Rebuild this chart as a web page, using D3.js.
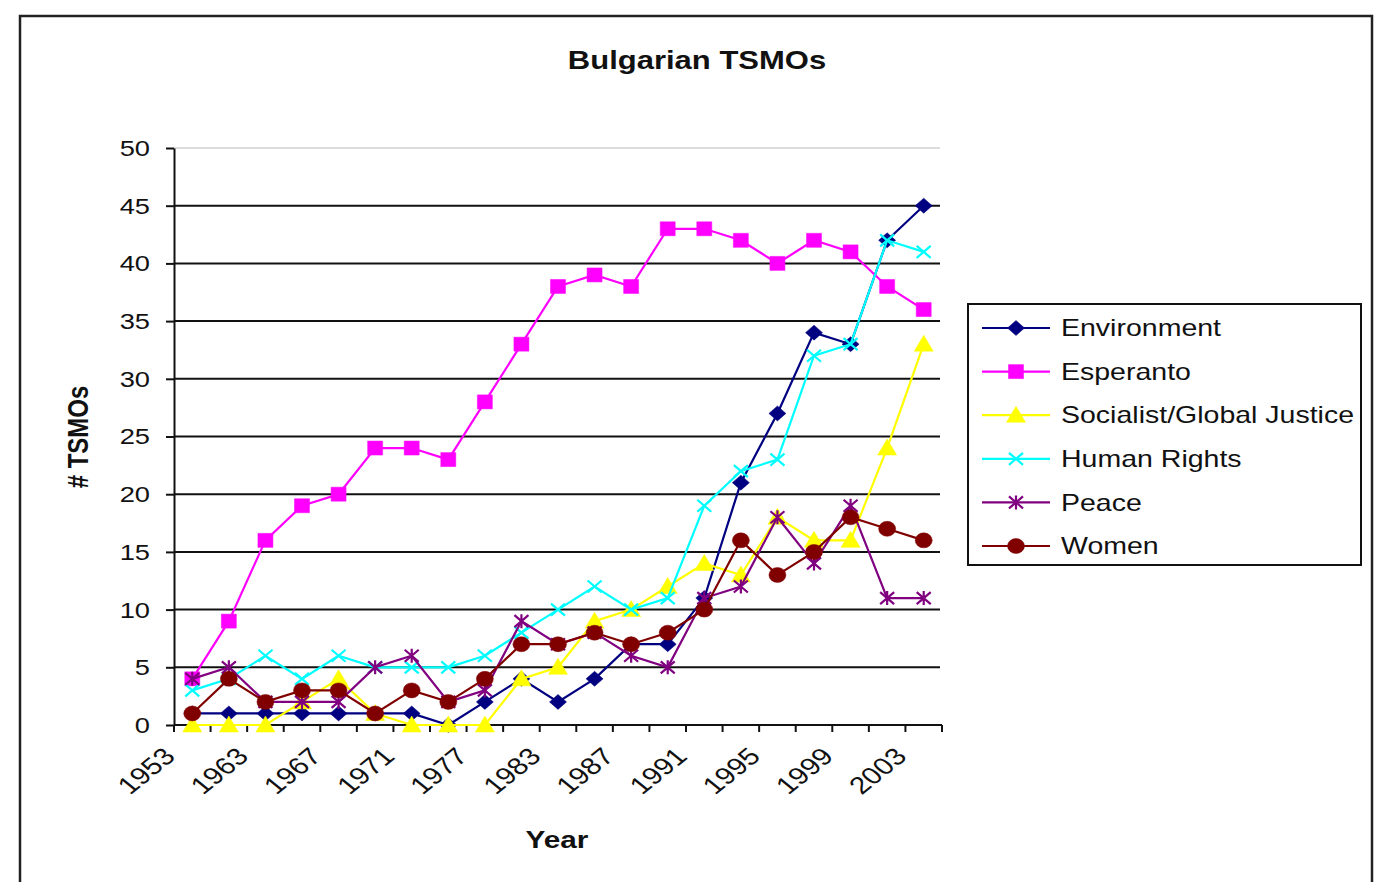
<!DOCTYPE html>
<html><head><meta charset="utf-8">
<script src="https://cdn.jsdelivr.net/npm/d3@7"></script>
<style>body{margin:0;background:#fff;} text{font-family:"Liberation Sans",Arial,sans-serif;}</style>
</head><body>
<svg id="c" width="1390" height="882"></svg>
<script>
const categories = d3.range(21); // 21 observation points along the category axis
const tickLabels = ["1953","1963","1967","1971","1977","1983","1987","1991","1995","1999","2003"];
const yTicks = [0,5,10,15,20,25,30,35,40,45,50];

const environment = [1,1,1,1,1,1,1,0,2,4,2,4,7,7,11,21,27,34,33,42,45];
const esperanto   = [4,9,16,19,20,24,24,23,28,33,38,39,38,43,43,42,40,42,41,38,36];
const socialist   = [0,0,0,2,4,1,0,0,0,4,5,9,10,12,14,13,18,16,16,24,33];
const humanRights = [3,4,6,4,6,5,5,5,6,8,10,12,10,11,19,22,23,32,33,42,41];
const peace       = [4,5,2,2,2,5,6,2,3,9,7,8,6,5,11,12,18,14,19,11,11];
const women       = [1,4,2,3,3,1,3,2,4,7,7,8,7,8,10,16,13,15,18,17,16];

const seriesNames = ["Environment","Esperanto","Socialist/Global Justice","Human Rights","Peace","Women"];
const seriesValues = [environment, esperanto, socialist, humanRights, peace, women];
const seriesColors = ["#000080","#ff00ff","#ffff00","#00ffff","#800080","#800000"];
const seriesMarkers = ["diamond","square","triangle","x","star","circle"];

const SX = 1.24; // horizontal stretch of the original picture
const svg = d3.select("#c");
svg.append("rect").attr("x",20).attr("y",16).attr("width",1352).attr("height",880)
  .attr("fill","none").attr("stroke","#222").attr("stroke-width",2.5);

const L=174, R=942, T=148, B=725;
const x = d3.scaleBand().domain(categories).range([L,R]).padding(0);
const y = d3.scaleLinear().domain([0,50]).range([B,T]);

function txt(px,py,str,size,anchor,bold){
  return svg.append("text").attr("transform",`translate(${px},${py}) scale(${SX},1)`)
    .attr("text-anchor",anchor).attr("font-size",size).attr("font-weight",bold?"bold":"normal")
    .attr("fill","#111").text(str);
}

// gridlines
svg.append("g").selectAll("line").data(yTicks.filter(d=>d>0)).join("line")
  .attr("x1",L).attr("x2",R-2).attr("y1",d=>y(d)).attr("y2",d=>y(d))
  .attr("stroke",d=>d===50?"#ddd":"#111").attr("stroke-width",2);

// y axis
const ya = svg.append("g").attr("transform",`translate(${L},0)`)
  .call(d3.axisLeft(y).tickValues(yTicks).tickSize(8).tickFormat("").tickSizeOuter(0));
ya.select(".domain").attr("stroke","#111").attr("stroke-width",2);
ya.selectAll(".tick line").attr("stroke","#111").attr("stroke-width",2);
yTicks.forEach(t=>txt(150,y(t),String(t),22,"end",false).attr("dy","0.36em"));

// x axis (ticks at category boundaries)
const bounds = d3.range(22).map(i => L + i*x.bandwidth());
const xa = svg.append("g");
xa.append("line").attr("x1",L).attr("x2",R).attr("y1",B).attr("y2",B).attr("stroke","#111").attr("stroke-width",2);
xa.selectAll("line.t").data(bounds).join("line").attr("class","t")
  .attr("x1",d=>d).attr("x2",d=>d).attr("y1",B).attr("y2",B+7).attr("stroke","#111").attr("stroke-width",2);
xa.selectAll("text").data(tickLabels).join("text")
  .attr("transform",(d,i)=>`translate(${bounds[i*2]-12},${B+21}) scale(${SX},1) rotate(-45)`)
  .attr("text-anchor","end").attr("dy","0.7em").attr("font-size",24).attr("fill","#111").text(d=>d);

// lines
const line = d3.line().x((d,i)=>x(i)+x.bandwidth()/2).y(d=>y(d));
function markerPath(type){
  switch(type){
    case "diamond": return "M0,-7.5L8.5,0L0,7.5L-8.5,0Z";
    case "square": return "M-7.5,-7H7.5V7H-7.5Z";
    case "triangle": return "M0,-9L9.5,7H-9.5Z";
    case "circle": return "M-8.5,0A8.5,7.5 0 1,0 8.5,0A8.5,7.5 0 1,0 -8.5,0Z";
    case "x": return "M-7,-6L7,6M-7,6L7,-6";
    case "star": return "M-7,-6L7,6M-7,6L7,-6M0,-7V7";
  }
}
function drawMarker(g,type,color){
  const p = g.append("path").attr("d",markerPath(type));
  if(type==="x"||type==="star") p.attr("fill","none").attr("stroke",color).attr("stroke-width",2.2);
  else p.attr("fill",color).attr("stroke",color).attr("stroke-width",0.5);
}
seriesValues.forEach((vals,si)=>{
  const g = svg.append("g");
  g.append("path").datum(vals).attr("d",line).attr("fill","none")
    .attr("stroke",seriesColors[si]).attr("stroke-width",2.2);
  vals.forEach((v,i)=>{
    const mg = g.append("g").attr("transform",`translate(${x(i)+x.bandwidth()/2},${y(v)})`);
    drawMarker(mg,seriesMarkers[si],seriesColors[si]);
  });
});

// title & axis titles
txt(697,69,"Bulgarian TSMOs",25,"middle",true);
svg.append("text").attr("transform","translate(88,437) rotate(-90) scale(1,1.24)").attr("text-anchor","middle")
  .attr("font-size",24).attr("font-weight","bold").attr("fill","#111").text("# TSMOs");
txt(557,848,"Year",24,"middle",true);

// legend
const lg = svg.append("g");
lg.append("rect").attr("x",968).attr("y",304).attr("width",393).attr("height",261)
  .attr("fill","#fff").attr("stroke","#111").attr("stroke-width",2);
seriesNames.forEach((n,i)=>{
  const yy = 328 + i*43.6;
  lg.append("line").attr("x1",982).attr("x2",1050).attr("y1",yy).attr("y2",yy)
    .attr("stroke",seriesColors[i]).attr("stroke-width",2.2);
  const mg = lg.append("g").attr("transform",`translate(1016,${yy})`);
  drawMarker(mg,seriesMarkers[i],seriesColors[i]);
  txt(1061,yy,n,23,"start",false).attr("dy","0.36em");
});
</script>
</body></html>
